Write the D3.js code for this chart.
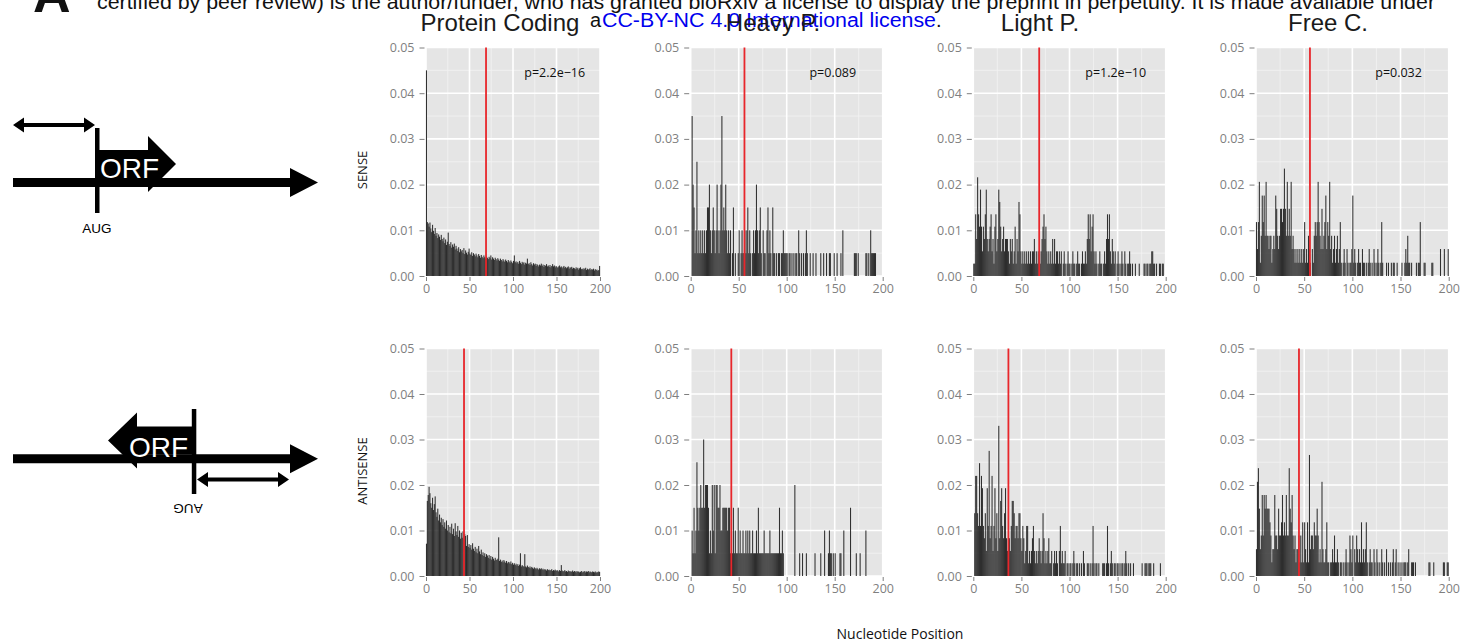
<!DOCTYPE html>
<html><head><meta charset="utf-8">
<script src="https://cdn.jsdelivr.net/npm/d3@7"></script>
<style>body{margin:0;background:#fff;overflow:hidden}</style>
</head><body><svg id="c" width="1461" height="644"></svg>
<script>
// ---------------- DATA ----------------
const categories = ["Protein Coding", "Heavy P.", "Light P.", "Free C."];
const strands = ["SENSE", "ANTISENSE"];
const xTicks = [0, 50, 100, 150, 200];
const yTicks = [0, 0.01, 0.02, 0.03, 0.04, 0.05];
const pValues = ["p=2.2e\u221216", "p=0.089", "p=1.2e\u221210", "p=0.032"];
const medianSense = [69, 56, 68.5, 56];
const medianAntisense = [43.7, 42.3, 36.5, 44.6];

const pcSense = [.045,
.0118,.0115,.0108,.0117,.0104,.0096,.0112,.0099,.0092,.0105,
.0088,.0094,.0083,.0091,.0086,.0079,.0090,.0081,.0076,.0084,
.0072,.0080,.0068,.0075,.0095,.0070,.0066,.0074,.0062,.0069,
.0064,.0071,.0058,.0066,.0060,.0055,.0063,.0052,.0059,.0054,
.0057,.0050,.0061,.0048,.0056,.0051,.0047,.0053,.0060,.0049,
.0046,.0052,.0044,.0050,.0047,.0043,.0049,.0045,.0041,.0048,
.0044,.0040,.0046,.0042,.0039,.0045,.0041,.0038,.0043,.0040,
.0037,.0042,.0039,.0045,.0036,.0041,.0038,.0035,.0040,.0037,
.0034,.0039,.0036,.0033,.0038,.0035,.0032,.0037,.0034,.0031,
.0036,.0033,.0030,.0035,.0032,.0029,.0034,.0031,.0028,.0033,
.0045,.0030,.0032,.0028,.0031,.0027,.0033,.0029,.0026,.0031,
.0028,.0030,.0025,.0029,.0027,.0038,.0026,.0028,.0024,.0030,
.0026,.0023,.0028,.0025,.0027,.0022,.0026,.0024,.0021,.0025,
.0023,.0027,.0022,.0025,.0020,.0024,.0022,.0026,.0021,.0023,
.0020,.0024,.0019,.0022,.0026,.0021,.0023,.0019,.0022,.0020,
.0018,.0021,.0023,.0019,.0021,.0017,.0020,.0022,.0018,.0020,
.0017,.0019,.0021,.0016,.0019,.0018,.0020,.0016,.0018,.0017,
.0015,.0019,.0016,.0018,.0014,.0017,.0019,.0015,.0016,.0014,
.0017,.0015,.0018,.0013,.0016,.0014,.0015,.0017,.0013,.0015,
.0014,.0016,.0012,.0015,.0013,.0014,.0011,.0013,.0022];

const heavySense = [0,.035,.02,.015,.005,.01,.025,.005,.01,.005,
.01,.005,.01,.005,.01,.005,.01,.015,.015,.02,
.01,.005,.01,.015,.01,.005,.01,.02,.01,.005,
.01,.02,.035,.01,.015,.01,.02,.01,.005,.01,
.005,.01,0,.005,.015,0,.005,0,0,.005,
.01,0,.005,.01,.005,.005,.01,.005,.01,.015,
.005,.01,.005,0,.005,.01,.005,.01,.02,.01,
.005,.01,.015,.005,0,.01,.005,.005,0,.01,
.015,.005,.01,.005,0,.015,.005,.005,0,.005,
0,.005,.005,0,.005,.005,.01,.005,.005,.005,
.005,0,.005,.005,0,.005,0,.005,0,.005,
.005,0,.01,.005,0,.005,0,.005,0,.005,
.01,.005,0,0,.005,0,0,.005,0,0,
.005,0,0,0,0,.005,0,0,.005,0,
0,.005,0,0,.005,.005,0,0,0,.005,
0,0,.005,0,0,0,.005,0,.01,0,
0,0,0,0,0,0,0,0,0,0,
.005,.005,.005,0,.005,0,0,0,0,0,
0,0,.005,.005,0,.005,0,.01,.005,.005,
.005,.005,.005,0,0,0,0,0,0,0];

const lightSense = [.0027,.0027,.0135,.0081,.0216,.0135,.0108,.0189,.0108,.0054,
.0108,.0081,.0135,.0189,.0081,.0054,.0081,.0108,.0135,.0054,
.0081,.0027,.0108,.0135,.0054,.0081,.0189,.0162,.0108,.0054,
.0081,.0108,.0054,.0081,.0081,.0081,.0054,.0027,.0081,.0054,
.0081,.0027,.0054,.0108,.0027,.0081,.0054,.0162,.0135,.0054,
.0027,.0054,.0027,.0054,.0027,.0054,.0027,.0054,.0027,.0054,
.0027,.0054,.0054,.0081,.0027,.0054,.0027,.0054,.0027,.0027,
.0054,.0081,.0108,.0135,.0081,.0108,.0054,.0027,.0054,.0027,
.0054,.0027,.0081,.0027,.0081,.0027,.0054,.0054,.0027,.0054,
.0027,.0054,0,.0027,.0054,.0027,0,.0027,.0054,.0027,
.0027,0,.0027,.0054,.0027,.0027,0,.0027,.0054,.0027,
.0027,0,.0027,.0054,.0027,.0027,.0054,.0027,.0081,.0135,
.0081,.0135,.0054,.0108,.0135,.0054,.0027,.0054,.0027,0,
.0027,.0054,.0027,.0027,0,.0027,.0054,.0027,.0081,.0135,
.0081,.0135,.0054,.0027,.0081,.0054,.0027,.0054,0,.0027,
.0054,.0027,0,.0027,.0054,.0027,0,.0054,.0027,0,
.0027,.0027,.0054,.0027,0,.0027,0,0,.0027,0,
0,0,.0027,0,0,0,0,.0027,.0027,0,
.0027,.0027,0,.0027,.0027,.0054,.0054,.0027,.0027,0,
.0027,0,0,.0027,.0027,0,.0027,.0027,0,0];

const freeSense = [.0118,.0059,.0118,.0206,.0029,.0088,.0176,.0118,.0176,.0088,
.0206,.0088,.0088,.0059,.0088,.0088,.0029,.0059,.0088,.0059,
.0176,.0147,.0088,.0059,.0088,.0147,.0147,.0118,.0147,.0235,
.0147,.0088,.0206,.0088,.0147,.0088,.0206,.0059,.0088,.0059,
.0029,.0059,.0029,.0059,.0029,.0059,.0029,.0059,.0029,.0059,
.0118,.0029,.0059,.0029,.0088,.0059,.0029,0,.0059,.0029,
.0088,.0118,.0088,.0118,.0206,.0118,.0088,.0059,.0147,.0059,
.0088,.0118,.0176,.0059,.0118,.0088,.0206,.0059,.0088,.0029,
.0059,.0088,.0029,.0059,.0088,.0029,.0059,.0118,.0029,0,
.0029,.0059,.0029,0,.0059,.0029,0,.0029,.0029,.0059,
.0176,.0029,.0059,.0029,0,.0029,.0059,.0029,.0029,0,
.0059,.0029,.0029,0,.0029,0,.0029,.0059,.0029,0,
.0029,0,.0059,.0029,0,.0029,.0059,.0029,0,.0029,
.0118,.0029,0,0,0,.0029,0,.0029,0,0,
.0029,0,.0029,.0029,0,0,.0029,0,0,0,
0,.0029,0,0,.0029,.0059,.0029,.0088,.0029,.0029,
0,.0029,0,0,0,0,.0029,0,.0029,.0029,
.0118,0,0,0,.0029,.0029,0,0,0,0,
0,0,.0029,.0029,0,0,0,0,0,0,
0,.0059,0,0,0,.0059,0,0,0,.0059];

const pcAntisense = [.0071,
.0165,.0178,.0196,.0182,.0160,.0150,.0172,.0145,.0158,.0175,
.0140,.0130,.0148,.0122,.0135,.0118,.0128,.0112,.0125,.0108,
.0118,.0104,.0122,.0100,.0112,.0096,.0108,.0094,.0115,.0092,
.0104,.0088,.0116,.0098,.0090,.0110,.0086,.0100,.0082,.0095,
.0084,.0098,.0080,.0092,.0088,.0066,.0090,.0064,.0070,.0062,
.0068,.0058,.0072,.0060,.0055,.0064,.0052,.0060,.0050,.0066,
.0054,.0048,.0058,.0046,.0052,.0044,.0050,.0042,.0048,.0045,
.0040,.0046,.0038,.0044,.0036,.0042,.0038,.0034,.0040,.0036,
.0035,.0038,.0085,.0033,.0036,.0031,.0034,.0030,.0035,.0032,
.0029,.0033,.0028,.0031,.0030,.0027,.0032,.0026,.0029,.0025,
.0028,.0024,.0027,.0023,.0026,.0022,.0025,.0050,.0021,.0024,
.0022,.0020,.0048,.0021,.0019,.0023,.0020,.0018,.0021,.0017,
.0020,.0018,.0016,.0019,.0017,.0015,.0018,.0016,.0014,.0017,
.0015,.0017,.0014,.0016,.0013,.0015,.0014,.0012,.0015,.0013,
.0014,.0012,.0013,.0015,.0011,.0013,.0012,.0014,.0011,.0013,
.0012,.0010,.0013,.0011,.0024,.0012,.0010,.0011,.0013,.0010,
.0011,.0009,.0012,.0010,.0011,.0009,.0010,.0012,.0009,.0011,
.0010,.0008,.0011,.0009,.0010,.0008,.0009,.0011,.0008,.0010,
.0009,.0011,.0008,.0010,.0009,.0011,.0008,.0010,.0009,.0008,
.0010,.0009,.0008,.0010,.0007,.0009,.0008,.0010,.0009];

const heavyAntisense = [0,.01,.005,.015,.005,.01,.025,.015,.01,.015,
.02,.015,.015,.03,.015,.02,.02,.02,.015,.005,
.01,.005,.02,.01,.02,.005,.02,.02,.015,.015,
.02,.01,.01,.015,.015,.015,.015,.015,.01,.015,
.015,.005,.01,.005,.015,.005,.01,.005,.005,.015,
.005,.01,.005,.005,.01,.005,.005,.01,.005,.01,
.005,.01,.005,.005,.01,.005,.005,.005,.01,.005,
.015,.005,.005,.005,.005,.005,.01,.005,.005,.005,
.005,.005,.01,.005,.005,.005,.005,.005,.005,.005,
.005,.005,.015,.005,.005,.01,.005,0,0,0,
0,0,0,0,0,0,0,0,.02,0,
0,0,0,.005,0,0,.005,0,0,0,
.005,0,0,0,0,0,0,0,0,.005,
0,0,0,0,0,.005,0,0,0,.01,
0,0,0,.005,.01,.005,.005,0,.005,0,
.005,0,0,0,0,.005,.005,0,0,.01,
0,0,0,0,0,0,.015,0,0,0,
0,0,.005,0,0,0,.005,0,0,0,
0,0,.01,0,0,0,0,0,0,0,
0,0,0,0,0,0,0,0,0,0];

const lightAntisense = [0,.0138,.022,.022,.0138,.011,.0248,.011,.022,.0193,
.011,.0083,.0138,.0055,.0193,.011,.0275,.0083,.011,.022,
.0055,.011,.0193,.0083,.0138,.0055,.033,.0083,.0165,.0193,
.011,.0083,.0138,.0193,.0083,.0055,.0083,.0083,.0055,.011,
.0165,.0165,.0138,.0083,.011,.011,.0083,.0138,.0138,.0083,
.0055,.011,.0083,.0028,.0055,.011,.011,.0028,.0055,.0028,
.0055,.0083,.011,.0055,.0028,.0055,.0028,.0055,.0083,.0055,
.0028,.0055,.0138,.0083,.0028,.0055,.0028,.0055,.0083,.0028,
.0028,.0055,0,.0028,.0055,.0028,.0055,.0028,0,.0055,
.011,.0028,.0055,.0028,.0028,.0055,0,.0028,.0028,0,
.0028,.0028,0,.0028,.0055,.0028,0,.0028,.0028,0,
.0028,0,.0028,0,.0055,.0028,0,0,.0028,.0028,
0,.0028,0,.0028,.011,.0028,0,.0028,.0028,0,
.0028,0,0,0,.0028,.0028,.0028,0,.0028,.011,
.0028,0,.0028,.0055,.0028,0,.0028,.0028,0,.0028,
.0028,0,.0028,0,.0028,.0028,0,.0028,.0055,.0028,
0,.0028,0,.0028,0,0,.0028,0,0,0,
0,0,0,0,0,.0028,0,0,.0028,.0028,
.0028,0,.0028,.0028,.0028,0,0,.0028,0,0,
0,0,0,0,.0028,0,0,0,0,0];

const freeAntisense = [.0059,.0207,.0237,.0148,.0059,.0089,.0178,.0089,.0178,.0148,
.0178,.0148,.0148,.0148,.0118,.0089,.003,.0059,.0059,.0178,
.0089,.0089,.0059,.0148,.0089,.0089,.0118,.0178,.0089,.0118,
.0089,.0178,.0089,.0089,.0237,.0148,.0118,.0178,.0089,.0059,
.0089,.003,.0059,.0059,.0089,.003,.0089,.003,.0118,.003,
.0118,.0059,.003,.0118,.003,.0266,.0059,.0089,.0089,.0059,
.0118,.0089,.0089,.0148,.0089,.003,.0059,.003,.0207,.0059,
.003,.003,.0059,.0118,.003,.003,0,.003,.003,.0059,
.003,.0089,.003,.003,.0059,.003,0,.003,.003,0,
.003,0,.003,.0059,.003,0,.003,.0089,.0059,.003,
.0089,0,.0059,.003,.0089,.0059,.003,.0059,.003,.0118,
.003,.0059,.003,.0059,.0118,.003,0,.003,.0059,.003,
.003,0,.0059,.003,0,.0059,.003,0,.003,0,
.0059,.003,0,.003,0,.0059,0,.003,0,.003,
0,.003,.0059,0,.003,.0059,0,.003,0,.003,
0,.003,0,.003,.003,.003,0,.003,.0059,0,
0,.003,.003,.003,0,.003,0,0,0,0,
0,0,0,0,0,0,0,0,0,.003,
.003,0,0,0,.003,0,0,0,0,0,
0,0,0,0,.003,.003,0,0,.003,.003];

const senseSeries = [pcSense, heavySense, lightSense, freeSense];
const antisenseSeries = [pcAntisense, heavyAntisense, lightAntisense, freeAntisense];

// ---------------- LAYOUT ----------------
const colX = [[426, 600], [690.7, 882.7], [973.3, 1165.7], [1256, 1448.7]];
const rowY = [[276, 47.5], [576, 348.5]];
const titleX = [500, 773, 1040, 1328];

const svg = d3.select("#c");
const tickFont = "'Open Sans', 'DejaVu Sans', sans-serif";
const sans = "'Liberation Sans', Arial, sans-serif";

// header text (cut-off preprint notice)
svg.append("text").attr("x", 33).attr("y", 12)
  .attr("font-family", sans).attr("font-weight", "bold").attr("font-size", 52)
  .attr("fill", "#111").text("A");
svg.append("text").attr("x", 97).attr("y", 9)
  .attr("font-family", sans).attr("font-size", 20).attr("fill", "#111")
  .attr("textLength", 1338).attr("lengthAdjust", "spacingAndGlyphs")
  .text("certified by peer review) is the author/funder, who has granted bioRxiv a license to display the preprint in perpetuity. It is made available under");
svg.append("text").attr("x", 590).attr("y", 27)
  .attr("font-family", sans).attr("font-size", 20).attr("fill", "#111").text("a");
svg.append("text").attr("x", 602).attr("y", 27)
  .attr("font-family", sans).attr("font-size", 20).attr("fill", "#0000ee")
  .attr("textLength", 334).attr("lengthAdjust", "spacingAndGlyphs")
  .text("CC-BY-NC 4.0 International license");
svg.append("text").attr("x", 936).attr("y", 27)
  .attr("font-family", sans).attr("font-size", 20).attr("fill", "#111").text(".");

// column titles
categories.forEach((c, i) => {
  svg.append("text").attr("x", titleX[i]).attr("y", 31)
    .attr("text-anchor", "middle").attr("font-family", sans)
    .attr("font-size", 24).attr("fill", "#1a1a1a").text(c);
});

// panels
[senseSeries, antisenseSeries].forEach((series, r) => {
  series.forEach((vals, c) => {
    const x = d3.scaleLinear().domain([0, 200]).range(colX[c]);
    const y = d3.scaleLinear().domain([0, 0.05]).range(rowY[r]);
    const g = svg.append("g");
    g.append("rect").attr("x", colX[c][0]).attr("y", rowY[r][1])
      .attr("width", colX[c][1] - colX[c][0]).attr("height", rowY[r][0] - rowY[r][1])
      .attr("fill", "#e5e5e5");
    // minor grid
    const xMinor = [25, 75, 125, 175];
    const yMinor = [0.005, 0.015, 0.025, 0.035, 0.045];
    g.selectAll(".xm").data(xMinor).join("line")
      .attr("x1", d => x(d)).attr("x2", d => x(d))
      .attr("y1", rowY[r][0]).attr("y2", rowY[r][1])
      .attr("stroke", "#f2f2f2").attr("stroke-width", 0.8);
    g.selectAll(".ym").data(yMinor).join("line")
      .attr("y1", d => y(d)).attr("y2", d => y(d))
      .attr("x1", colX[c][0]).attr("x2", colX[c][1])
      .attr("stroke", "#f2f2f2").attr("stroke-width", 0.8);
    // major grid
    g.selectAll(".xM").data(xTicks).join("line")
      .attr("x1", d => x(d)).attr("x2", d => x(d))
      .attr("y1", rowY[r][0]).attr("y2", rowY[r][1])
      .attr("stroke", "#ffffff").attr("stroke-width", 1.6);
    g.selectAll(".yM").data(yTicks).join("line")
      .attr("y1", d => y(d)).attr("y2", d => y(d))
      .attr("x1", colX[c][0]).attr("x2", colX[c][1])
      .attr("stroke", "#ffffff").attr("stroke-width", 1.6);
    // bars
    const data = vals.map((v, i) => ({ i, v })).filter(d => d.v > 0);
    g.selectAll(".bar").data(data).join("rect")
      .attr("x", d => x(d.i) - 0.05)
      .attr("width", d => Math.max(1.05, x(d.i + 1) - x(d.i)))
      .attr("y", d => y(d.v))
      .attr("height", d => y(0) - y(d.v))
      .attr("fill", "#262626").attr("fill-opacity", 0.95);
    // median line
    const med = r === 0 ? medianSense[c] : medianAntisense[c];
    g.append("line").attr("x1", x(med)).attr("x2", x(med))
      .attr("y1", rowY[r][0]).attr("y2", rowY[r][1])
      .attr("stroke", "#e8262b").attr("stroke-width", 1.8);
    // p-value
    if (r === 0) {
      g.append("text").attr("x", x(148)).attr("y", y(0.0446))
        .attr("dy", "0.35em").attr("text-anchor", "middle")
        .attr("font-family", tickFont).attr("font-size", 12.5).attr("fill", "#111")
        .text(pValues[c]);
    }
    // axes
    const ax = g.append("g")
      .call(d3.axisBottom(x).tickValues(xTicks).tickSize(4).tickPadding(3).tickFormat(d3.format("d")));
    const ay = g.append("g").attr("transform", `translate(${colX[c][0] - 1.5},0)`)
      .call(d3.axisLeft(y).tickValues(yTicks).tickSize(5).tickPadding(5).tickFormat(d3.format(".2f")));
    [ax, ay].forEach(a => {
      a.select(".domain").remove();
      a.selectAll("line").attr("stroke", "#7f7f7f");
      a.selectAll("text").attr("fill", "#7f7f7f").attr("font-family", tickFont).attr("font-size", 12.5);
    });
    ax.attr("transform", `translate(0,${rowY[r][0] + 1})`);
  });
});

// row labels
svg.append("text").attr("transform", "translate(367,170) rotate(-90)")
  .attr("text-anchor", "middle").attr("font-family", tickFont).attr("font-size", 13).attr("fill", "#111")
  .text(strands[0]);
svg.append("text").attr("transform", "translate(367,471) rotate(-90)")
  .attr("text-anchor", "middle").attr("font-family", tickFont).attr("font-size", 13).attr("fill", "#111")
  .text(strands[1]);

// x-axis title
svg.append("text").attr("x", 900).attr("y", 639).attr("text-anchor", "middle")
  .attr("font-family", tickFont).attr("font-size", 14).attr("fill", "#111")
  .text("Nucleotide Position");

// ---------------- DIAGRAMS ----------------
function arrowRight(g, x1, x2, y, shaft, headLen, headHalf) {
  g.append("path").attr("d",
    `M${x1},${y - shaft / 2} L${x2 - headLen},${y - shaft / 2} L${x2 - headLen},${y - headHalf} L${x2},${y} L${x2 - headLen},${y + headHalf} L${x2 - headLen},${y + shaft / 2} L${x1},${y + shaft / 2} Z`)
    .attr("fill", "#000");
}
function dblArrow(g, x1, x2, y) {
  const hl = 11, hh = 7.5, sw = 4;
  g.append("path").attr("d",
    `M${x1},${y} L${x1 + hl},${y - hh} L${x1 + hl},${y - sw / 2} L${x2 - hl},${y - sw / 2} L${x2 - hl},${y - hh} L${x2},${y} L${x2 - hl},${y + hh} L${x2 - hl},${y + sw / 2} L${x1 + hl},${y + sw / 2} L${x1 + hl},${y + hh} Z`)
    .attr("fill", "#000");
}
const dg = svg.append("g");
// sense diagram
arrowRight(dg, 13, 318, 182.5, 9, 28, 14.5);
dg.append("rect").attr("x", 95).attr("y", 128).attr("width", 4.5).attr("height", 85).attr("fill", "#000");
dg.append("path").attr("d", "M97,150 L148,150 L148,136 L176,164 L148,192 L148,178 L97,178 Z").attr("fill", "#000");
dg.append("text").attr("x", 100).attr("y", 178).attr("font-family", sans).attr("font-size", 28)
  .attr("fill", "#fff").text("ORF");
dblArrow(dg, 13, 95, 125);
dg.append("text").attr("x", 97).attr("y", 233).attr("text-anchor", "middle")
  .attr("font-family", sans).attr("font-size", 13.5).attr("fill", "#000").text("AUG");
// antisense diagram
arrowRight(dg, 13, 318, 458.8, 9, 28, 14.5);
dg.append("rect").attr("x", 191.8).attr("y", 409).attr("width", 4.5).attr("height", 85).attr("fill", "#000");
dg.append("path").attr("d", "M194,426.5 L137,426.5 L137,412.5 L108,440.5 L137,468.5 L137,454.5 L194,454.5 Z").attr("fill", "#000");
dg.append("text").attr("x", 129).attr("y", 457).attr("font-family", sans).attr("font-size", 28)
  .attr("fill", "#fff").text("ORF");
dblArrow(dg, 197, 289, 479.5);
dg.append("text").attr("transform", "translate(188,504) rotate(180)").attr("text-anchor", "middle")
  .attr("font-family", sans).attr("font-size", 13.5).attr("fill", "#000").text("AUG");
</script>
</body></html>
